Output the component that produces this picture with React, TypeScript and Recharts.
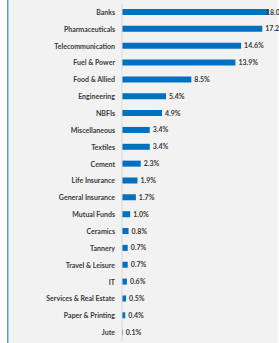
import React from 'react';
import { BarChart, Bar, XAxis, YAxis, LabelList } from 'recharts';

const sectors = [
  'Banks',
  'Pharmaceuticals',
  'Telecommunication',
  'Fuel & Power',
  'Food & Allied',
  'Engineering',
  'NBFIs',
  'Miscellaneous',
  'Textiles',
  'Cement',
  'Life Insurance',
  'General Insurance',
  'Mutual Funds',
  'Ceramics',
  'Tannery',
  'Travel & Leisure',
  'IT',
  'Services & Real Estate',
  'Paper & Printing',
  'Jute',
];

const shares = [18.0, 17.2, 14.6, 13.9, 8.5, 5.4, 4.9, 3.4, 3.4, 2.3, 1.9, 1.7, 1.0, 0.8, 0.7, 0.7, 0.6, 0.5, 0.4, 0.1];

const chartData = sectors.map((name, i) => ({ name, value: shares[i] }));

const font = 'Lato, "Open Sans", sans-serif';
const textColor = '#3a3a3a';
const CHART_W = 279;

// plain <text> tick so long names stay on one line
const SectorTick = (props: any) => {
  const { x, y, payload } = props;
  return (
    <text x={x} y={y} dy={2.5} textAnchor="end" fontSize={7} fontWeight={700} fill={textColor} fontFamily={font}>
      {payload.value}
    </text>
  );
};

// value label right of the bar; pulled back over the bar end when it would
// run past the chart edge (like the Banks label in the original)
const ValueLabel = (props: any) => {
  const { x, y, width, height, value } = props;
  const lx = Math.min(x + width + 3, CHART_W - 13);
  return (
    <text x={lx} y={y + height / 2} dy={2.5} fontSize={7} fontWeight={700} fill={textColor} fontFamily={font}>
      {`${Number(value).toFixed(1)}%`}
    </text>
  );
};

export default function App() {
  return (
    <div style={{ position: 'absolute', left: 0, top: 0, width: 279, height: 343, background: '#ffffff', overflow: 'hidden' }}>
      {/* panel background with the blue left edge */}
      <div
        style={{
          position: 'absolute',
          left: 7,
          top: 0,
          width: 270,
          height: 343,
          background: '#f2f2f2',
          borderLeft: '1px solid #5b9bd5',
          boxShadow: 'inset 1px 0 0 #a9c8ea',
        }}
      />
      <div style={{ position: 'absolute', left: 0, top: 0 }}>
        <BarChart
          layout="vertical"
          width={CHART_W}
          height={343}
          data={chartData}
          margin={{ top: 4, right: 2, left: 0, bottom: 2 }}
          barCategoryGap={0}
        >
          <XAxis type="number" domain={[0, 19]} hide />
          <YAxis
            type="category"
            dataKey="name"
            width={122}
            interval={0}
            tickLine={false}
            tickSize={5}
            tickMargin={2}
            axisLine={{ stroke: '#d9d9d9' }}
            tick={<SectorTick />}
          />
          <Bar dataKey="value" fill="#0070c0" barSize={6} isAnimationActive={false}>
            <LabelList dataKey="value" content={<ValueLabel />} />
          </Bar>
        </BarChart>
      </div>
    </div>
  );
}
